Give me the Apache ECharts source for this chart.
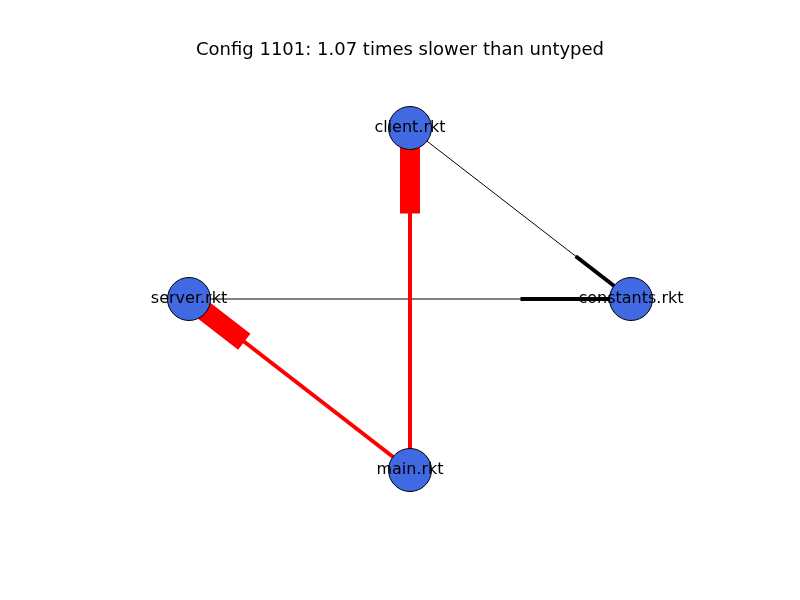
<!DOCTYPE html>
<html><head><meta charset="utf-8">
<script src="https://cdn.jsdelivr.net/npm/echarts@6/dist/echarts.min.js"></script>
<style>html,body{margin:0;background:#fff}#c{width:800px;height:600px}</style>
</head><body><div id="c"></div>
<script>
const titleText = 'Config 1101: 1.07 times slower than untyped';
const nodeNames = ['client.rkt', 'constants.rkt', 'main.rkt', 'server.rkt'];
const nodeX = [0, 1, 0, -1];
const nodeY = [1, 0, -1, 0];
const edgeSource = ['client.rkt', 'server.rkt', 'main.rkt', 'main.rkt'];
const edgeTarget = ['constants.rkt', 'constants.rkt', 'client.rkt', 'server.rkt'];
const edgeColor = ['#000000', '#000000', '#ff0000', '#ff0000'];
const edgeWidth = [1, 1, 4, 4];
const edgeHeadWidth = [4, 4, 20, 20];

const pos = n => { const i = nodeNames.indexOf(n); return [nodeX[i], nodeY[i]]; };
const series = [];
edgeSource.forEach((s, k) => {
  const a = pos(s), b = pos(edgeTarget[k]);
  const m = [a[0] + 0.75 * (b[0] - a[0]), a[1] + 0.75 * (b[1] - a[1])];
  series.push({type: 'line', data: [a, b], symbol: 'none', silent: true, z: 1,
    lineStyle: {color: edgeColor[k], width: edgeWidth[k]}});
  series.push({type: 'line', data: [m, b], symbol: 'none', silent: true, z: 2,
    lineStyle: {color: edgeColor[k], width: edgeHeadWidth[k], cap: 'butt'}});
});
series.push({type: 'scatter', z: 5, symbolSize: 43,
  data: nodeNames.map((n, i) => ({name: n, value: [nodeX[i], nodeY[i]]})),
  itemStyle: {color: '#4169E1', borderColor: '#000', borderWidth: 1, opacity: 1},
  label: {show: true, position: 'inside', formatter: p => p.name, color: '#000',
    fontSize: 16, fontFamily: 'DejaVu Sans'}});

const chart = echarts.init(document.getElementById('c'));
chart.setOption({
  animation: false,
  title: {text: titleText, left: 'center', top: 36,
    textStyle: {fontSize: 18, fontWeight: 'normal', color: '#000', fontFamily: 'DejaVu Sans'}},
  grid: {left: 78.5, width: 663, top: 42.5, height: 513},
  xAxis: {type: 'value', min: -1.5, max: 1.5, show: false},
  yAxis: {type: 'value', min: -1.5, max: 1.5, show: false},
  series
});
</script></body></html>
